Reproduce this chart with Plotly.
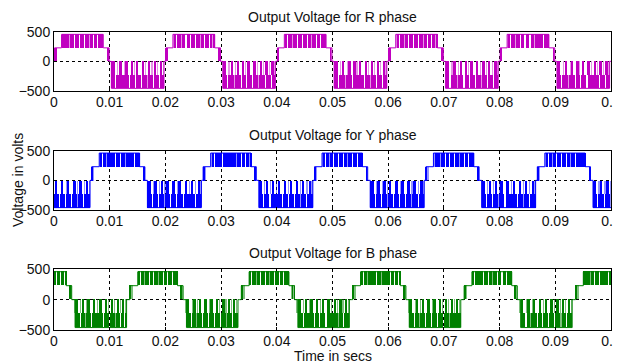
import plotly.graph_objects as go
from plotly.subplots import make_subplots

# ---------------- data (times in ms within one 20 ms period, volts) ----------------
PERIOD_MS = 20.0
N_PERIODS = 5
TIME_TICKS = [0, 0.01, 0.02, 0.03, 0.04, 0.05, 0.06, 0.07, 0.08, 0.09, 0.1]
VOLT_TICKS = [-500, 0, 500]

PHASE_NAMES = ["R", "Y", "B"]
PHASE_OFFSET_MS = [0.0, 6.67, 13.33]

# staircase outline of each phase (step times / levels)
R_STEP_T = [0, 0.1, 1.35, 8.85, 9.9, 10.3, 19.75]
R_STEP_V = [0, 230, 460, 230, 0, -460, 0]
Y_STEP_T = [0, 0.1, 1.45, 8.7, 9.65, 10.1, 19.8]
Y_STEP_V = [0, 230, 460, 230, 0, -460, 0]
B_STEP_T = [0, 0.3, 1.7, 8.85, 9.85, 10.45, 19.7]
B_STEP_V = [0, 230, 460, 230, 0, -460, 0]

# densely switched (solid) regions: [t0, t1, low, high]
R_SPANS = [[0.1, 0.45, 0, 230], [1.6, 8.85, 230, 460], [9.6, 9.7, 0, 230],
           [10.3, 19.75, -460, -230],
           [10.3, 10.9, -230, 0], [11.8, 12.15, -230, 0], [12.9, 13.25, -230, 0],
           [13.85, 14.2, -230, 0], [14.8, 15.15, -230, 0], [15.85, 16.2, -230, 0],
           [16.9, 17.3, -230, 0], [18.0, 18.35, -230, 0], [19.1, 19.45, -230, 0]]
R_GAPS = [[1.9, 2.05, 230, 460], [2.75, 2.95, 230, 460], [3.6, 3.8, 230, 460],
          [4.45, 4.65, 230, 460], [5.35, 5.55, 230, 460], [6.2, 6.4, 230, 460],
          [7.0, 7.15, 230, 460], [7.75, 7.95, 230, 460], [8.45, 8.6, 230, 460],
          [11.0, 11.2, -460, -230], [12.3, 12.45, -460, -230], [13.5, 13.7, -460, -230],
          [14.5, 14.65, -460, -230], [15.6, 15.8, -460, -230], [16.7, 16.85, -460, -230],
          [17.8, 18.0, -460, -230], [18.9, 19.05, -460, -230]]
R_LIGHT = [[1.35, 1.6, 230, 460], [2.75, 2.95, 230, 460], [6.2, 6.4, 230, 460],
           [8.45, 8.6, 230, 460], [9.5, 9.9, 0, 230],
           [12.3, 12.45, -460, -230], [16.7, 16.85, -460, -230],
           [11.3, 11.55, -230, 0], [12.55, 12.75, -230, 0], [14.3, 14.5, -230, 0],
           [16.4, 16.6, -230, 0], [17.5, 17.7, -230, 0], [18.55, 18.75, -230, 0],
           [19.5, 19.7, -230, 0]]

Y_SPANS = [[0.1, 0.35, 0, 230], [1.75, 8.7, 230, 460], [9.4, 9.5, 0, 230],
           [10.1, 19.8, -460, -230],
           [10.1, 10.7, -230, 0], [11.45, 11.8, -230, 0], [12.55, 12.9, -230, 0],
           [13.55, 13.9, -230, 0], [14.65, 15.0, -230, 0], [15.75, 16.1, -230, 0],
           [16.85, 17.2, -230, 0], [17.95, 18.3, -230, 0], [19.1, 19.5, -230, 0]]
Y_GAPS = [[2.0, 2.15, 230, 460], [2.7, 2.85, 230, 460], [3.5, 3.65, 230, 460],
          [4.3, 4.45, 230, 460], [5.2, 5.35, 230, 460], [6.0, 6.2, 230, 460],
          [6.9, 7.05, 230, 460], [7.7, 7.85, 230, 460], [8.4, 8.55, 230, 460],
          [10.9, 11.05, -460, -230], [12.0, 12.2, -460, -230], [13.1, 13.25, -460, -230],
          [14.2, 14.4, -460, -230], [15.3, 15.45, -460, -230], [16.4, 16.6, -460, -230],
          [17.5, 17.65, -460, -230], [18.6, 18.8, -460, -230]]
Y_LIGHT = [[0.35, 0.6, 0, 230], [1.45, 1.75, 230, 460], [2.7, 2.85, 230, 460],
           [6.0, 6.2, 230, 460], [8.4, 8.55, 230, 460], [9.3, 9.65, 0, 230],
           [13.1, 13.25, -460, -230], [17.5, 17.65, -460, -230],
           [11.05, 11.3, -230, 0], [12.15, 12.35, -230, 0], [13.15, 13.35, -230, 0],
           [15.4, 15.6, -230, 0], [17.5, 17.7, -230, 0], [18.65, 18.85, -230, 0],
           [19.55, 19.8, -230, 0]]

B_SPANS = [[0.3, 0.55, 0, 230], [1.7, 8.85, 230, 460], [9.4, 9.55, 0, 230],
           [10.45, 19.7, -460, -230],
           [10.45, 10.95, -230, 0], [11.75, 12.1, -230, 0], [12.75, 13.1, -230, 0],
           [13.75, 14.1, -230, 0], [14.85, 15.2, -230, 0], [15.85, 16.2, -230, 0],
           [16.95, 17.3, -230, 0], [18.0, 18.3, -230, 0], [18.95, 19.25, -230, 0]]
B_GAPS = [[2.1, 2.25, 230, 460], [2.9, 3.05, 230, 460], [3.7, 3.85, 230, 460],
          [4.5, 4.7, 230, 460], [5.35, 5.5, 230, 460], [6.2, 6.35, 230, 460],
          [7.0, 7.2, 230, 460], [7.8, 7.95, 230, 460], [8.5, 8.65, 230, 460],
          [11.3, 11.5, -460, -230], [12.2, 12.35, -460, -230], [13.3, 13.5, -460, -230],
          [14.3, 14.45, -460, -230], [15.4, 15.6, -460, -230], [16.5, 16.65, -460, -230],
          [17.6, 17.8, -460, -230], [18.6, 18.75, -460, -230], [19.3, 19.45, -460, -230]]
B_LIGHT = [[0.55, 0.9, 0, 230], [2.9, 3.05, 230, 460], [5.35, 5.5, 230, 460],
           [9.3, 9.85, 0, 230], [12.2, 12.35, -460, -230], [17.6, 17.8, -460, -230],
           [10.2, 10.45, -230, 0], [11.4, 11.6, -230, 0], [12.4, 12.6, -230, 0],
           [14.45, 14.65, -230, 0], [16.35, 16.55, -230, 0], [17.45, 17.65, -230, 0],
           [18.45, 18.65, -230, 0], [19.4, 19.6, -230, 0]]

DARK_COLORS = ["#C000C0", "#0000FF", "#008000"]
LIGHT_COLORS = ["rgba(192,0,192,0.42)", "rgba(0,0,255,0.42)", "rgba(0,128,0,0.5)"]

STEP_T = [R_STEP_T, Y_STEP_T, B_STEP_T]
STEP_V = [R_STEP_V, Y_STEP_V, B_STEP_V]
SPANS = [R_SPANS, Y_SPANS, B_SPANS]
GAPS = [R_GAPS, Y_GAPS, B_GAPS]
LIGHTS = [R_LIGHT, Y_LIGHT, B_LIGHT]


# ---------------- helpers ----------------
def cut_gaps(span, gaps):
    t0, t1, lo, hi = span
    segs = [[t0, t1]]
    for g0, g1, glo, ghi in gaps:
        if glo != lo or ghi != hi:
            continue
        new = []
        for a, b in segs:
            if g1 <= a or g0 >= b:
                new.append([a, b])
                continue
            if g0 > a:
                new.append([a, g0])
            if g1 < b:
                new.append([g1, b])
        segs = new
    return [[a, b, lo, hi] for a, b in segs]


def tiled_bars(bands, offset):
    xs, ws, bases, hs = [], [], [], []
    for k in range(-1, N_PERIODS + 1):
        sh = offset + PERIOD_MS * k
        for t0, t1, lo, hi in bands:
            a, b = t0 + sh, t1 + sh
            if b < 0 or a > PERIOD_MS * N_PERIODS:
                continue
            xs.append((a + b) / 2 / 1000.0)
            ws.append((b - a) / 1000.0)
            bases.append(lo)
            hs.append(hi - lo)
    return xs, ws, bases, hs


# page body has an 8 px margin: figure is sized / positioned to compensate
W, H = 613, 356
fig = make_subplots(rows=3, cols=1)

def ydom(top_px, bot_px):
    return [1 - bot_px / H, 1 - top_px / H]

domains = [ydom(24, 82.7), ydom(142.7, 202), ydom(261.3, 322)]

for i in range(3):
    row = i + 1
    off = PHASE_OFFSET_MS[i]
    dark_bands = []
    for sp in SPANS[i]:
        dark_bands += cut_gaps(sp, GAPS[i])
    for bands, col in [(LIGHTS[i], LIGHT_COLORS[i]), (dark_bands, DARK_COLORS[i])]:
        xs, ws, bases, hs = tiled_bars(bands, off)
        fig.add_trace(go.Bar(x=xs, y=hs, base=bases, width=ws,
                             marker=dict(color=col, line=dict(width=0)),
                             showlegend=False, hoverinfo="skip"), row=row, col=1)
    lt, lv = [], []
    for k in range(-1, N_PERIODS + 1):
        sh = off + PERIOD_MS * k
        lt += [(t + sh) / 1000.0 for t in STEP_T[i]]
        lv += STEP_V[i]
    fig.add_trace(go.Scatter(x=lt, y=lv, mode="lines", line=dict(color=DARK_COLORS[i], width=1, shape="hv"),
                             showlegend=False, hoverinfo="skip"), row=row, col=1)

axis_font = dict(family="Liberation Sans, Arial, sans-serif", size=14, color="#111")
for i in range(3):
    xa = "xaxis" if i == 0 else f"xaxis{i+1}"
    ya = "yaxis" if i == 0 else f"yaxis{i+1}"
    fig.layout[xa].update(domain=[0, 1], range=[0, 0.1], tickvals=TIME_TICKS,
                          ticktext=[f"{v:g}" for v in TIME_TICKS], automargin=False,
                          showgrid=True, gridcolor="#000", gridwidth=1, griddash="3px,3px",
                          showline=True, mirror=True, linecolor="#000", linewidth=1,
                          zeroline=False, ticks="inside", ticklen=3, tickcolor="#000",
                          tickfont=axis_font, ticklabelstandoff=-2)
    fig.layout[ya].update(domain=domains[i], range=[-500, 500], tickvals=VOLT_TICKS,
                          automargin=False,
                          showgrid=True, gridcolor="#000", gridwidth=1, griddash="3px,3px",
                          showline=True, mirror=True, linecolor="#000", linewidth=1,
                          zeroline=False, ticks="inside", ticklen=3, tickcolor="#000",
                          tickfont=axis_font)

title_font = dict(family="Liberation Sans, Arial, sans-serif", size=14, color="#111")
title_px = [9, 127, 245]
annotations = []
for i, name in enumerate(PHASE_NAMES):
    annotations.append(dict(text=f"Output Voltage for {name} phase", x=0.5, y=1 - title_px[i] / H,
                            xref="paper", yref="paper", showarrow=False, font=title_font,
                            xanchor="center", yanchor="middle"))
annotations.append(dict(text="Time in secs", x=0.5, y=1 - 348 / H, xref="paper", yref="paper",
                        showarrow=False, font=title_font, xanchor="center", yanchor="middle"))
annotations.append(dict(text="Voltage in volts", x=(10 - 46) / 557, y=1 - 172 / H, xref="paper",
                        yref="paper", showarrow=False, font=title_font, textangle=-90,
                        xanchor="center", yanchor="middle"))

fig.update_layout(width=W, height=H, margin=dict(l=46, r=10, t=0, b=0, autoexpand=False),
                  paper_bgcolor="white", plot_bgcolor="white", barmode="overlay",
                  bargap=0, annotations=annotations, showlegend=False)

fig.write_html("out.html")
